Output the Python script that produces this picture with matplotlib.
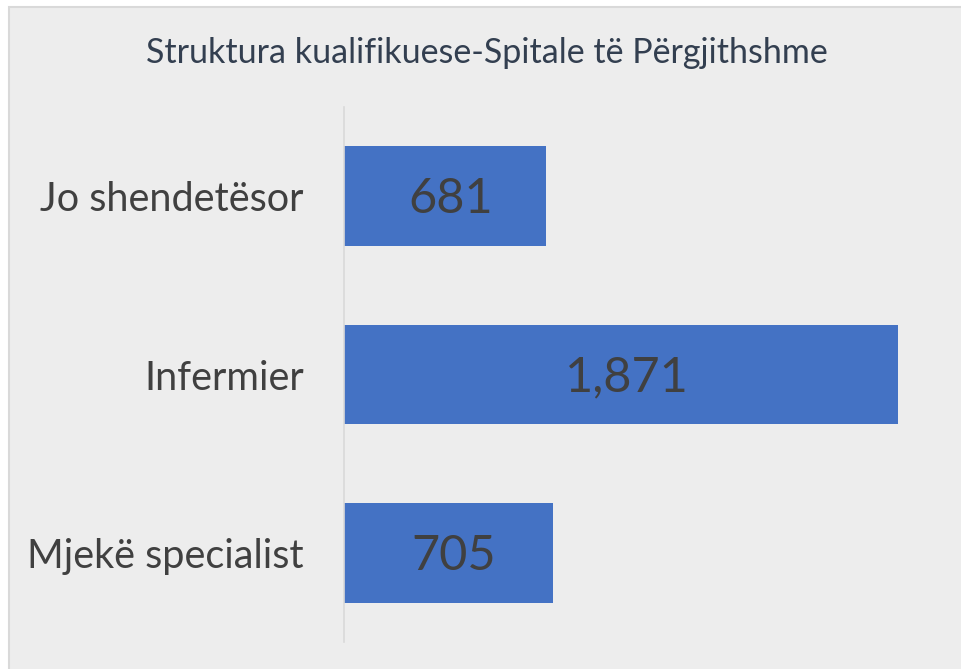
import matplotlib
matplotlib.use("Agg")
import matplotlib.pyplot as plt
from matplotlib.patches import Rectangle

categories = ["Jo shendetësor", "Infermier", "Mjekë specialist"]
values = [681, 1871, 705]
title = "Struktura kualifikuese-Spitale të Përgjithshme"

W, H = 961, 669
BG = "#EDEDED"
BAR = "#4472C4"

fig = plt.figure(figsize=(W / 100, H / 100), dpi=100)
fig.patch.set_facecolor("white")
# chart area panel with thin border (cut off at right/bottom)
fig.patches.append(Rectangle((9 / W, -0.01), 1.0, (H - 7) / H + 0.01,
                             transform=fig.transFigure, facecolor=BG,
                             edgecolor="#D9D9D9", lw=1.5, zorder=-5))

ax = fig.add_axes([344 / W, 27 / H, 592 / W, 535 / H])
ax.set_zorder(2)
ax.set_facecolor("none")
pos = list(range(len(categories)))
ax.barh(pos, values, height=0.56, color=BAR)
ax.set_xlim(0, 2000)
ax.set_ylim(2.5, -0.5)
ax.set_yticks(pos)
ax.set_yticklabels(categories, fontsize=28.5, color="#404040", family="Lato")
ax.tick_params(axis="y", length=0, pad=29)
ax.set_xticks([])
for s in ["top", "right", "bottom"]:
    ax.spines[s].set_visible(False)
ax.spines["left"].set_color("#D9D9D9")
ax.spines["left"].set_linewidth(1.2)

for p, v in zip(pos, values):
    ax.annotate(f"{v:,}", (v / 2, p), xytext=(4, -2), textcoords="offset points",
                ha="center", va="center", fontsize=35,
                color="#404040", family="Lato")

fig.text(487 / W, 1 - 53 / H, title, ha="center", va="center", fontsize=24.5,
         color="#333F50", family="Lato", zorder=3)

fig.savefig("out.png", dpi=100)
